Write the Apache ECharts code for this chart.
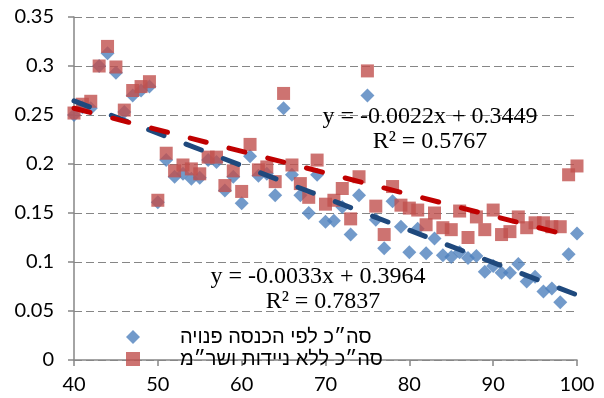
<!DOCTYPE html>
<html>
<head>
<meta charset="utf-8">
<script src="https://cdn.jsdelivr.net/npm/echarts@6/dist/echarts.min.js"></script>
<style>
  html, body { margin: 0; padding: 0; background: #fff; }
  #chart { width: 604px; height: 398px; }
</style>
</head>
<body>
<div id="chart"></div>
<script>
// Percentile of the income distribution (x axis)
const percentiles = [
  40, 41, 42, 43, 44, 45, 46, 47, 48, 49,
  50, 51, 52, 53, 54, 55, 56, 57, 58, 59,
  60, 61, 62, 63, 64, 65, 66, 67, 68, 69,
  70, 71, 72, 73, 74, 75, 76, 77, 78, 79,
  80, 81, 82, 83, 84, 85, 86, 87, 88, 89,
  90, 91, 92, 93, 94, 95, 96, 97, 98, 99, 100
];

// Total, by disposable income
const disposableIncome = [
  0.250, 0.258, 0.257, 0.300, 0.313, 0.293, 0.253, 0.270, 0.275, 0.279,
  0.161, 0.204, 0.187, 0.190, 0.185, 0.186, 0.204, 0.202, 0.173, 0.187,
  0.160, 0.208, 0.188, 0.190, 0.168, 0.257, 0.189, 0.168, 0.150, 0.189,
  0.141, 0.142, 0.156, 0.128, 0.168, 0.270, 0.143, 0.114, 0.162, 0.136,
  0.110, 0.134, 0.109, 0.124, 0.107, 0.105, 0.110, 0.104, 0.106, 0.090,
  0.096, 0.089, 0.089, 0.098, 0.080, 0.085, 0.070, 0.073, 0.059, 0.108, 0.129
];

// Total, without mobility and in-kind services
const withoutMobility = [
  0.252, 0.261, 0.264, 0.300, 0.320, 0.299, 0.255, 0.275, 0.279, 0.284,
  0.163, 0.211, 0.193, 0.199, 0.195, 0.190, 0.207, 0.207, 0.178, 0.193,
  0.172, 0.220, 0.194, 0.197, 0.182, 0.272, 0.199, 0.180, 0.166, 0.204,
  0.159, 0.163, 0.175, 0.144, 0.187, 0.295, 0.157, 0.128, 0.177, 0.158,
  0.155, 0.153, 0.138, 0.150, 0.135, 0.133, 0.152, 0.125, 0.146, 0.133,
  0.153, 0.128, 0.131, 0.146, 0.135, 0.140, 0.140, 0.136, 0.136, 0.189, 0.198
];

const seriesNames = ['סה״כ לפי הכנסה פנויה', 'סה״כ ללא ניידות ושר״מ'];

// Linear trend coefficients: y = slope * x + intercept
const trendDisposable = { slope: -0.0033, intercept: 0.3964, r2: '0.7837' };
const trendWithout = { slope: -0.0022, intercept: 0.3449, r2: '0.5767' };

const xTicks = { min: 40, max: 100, interval: 10 };
const yTicks = { min: 0, max: 0.35, interval: 0.05 };

function pairs(xs, ys) { return xs.map((x, i) => [x, ys[i]]); }
function trendLine(t) {
  return [xTicks.min, xTicks.max].map(x => [x, t.slope * x + t.intercept]);
}
function eqText(t) {
  const s = t.slope < 0 ? '-' + Math.abs(t.slope).toFixed(4) : t.slope.toFixed(4);
  return 'y = ' + s + 'x + ' + t.intercept.toFixed(4);
}

const chart = echarts.init(document.getElementById('chart'), null, { renderer: 'canvas' });

const axisGray = '#868686';
const labelFont = { fontFamily: 'Lato', fontSize: 20, color: '#000' };
const eqFont = { fontFamily: '"Liberation Serif", "DejaVu Serif", serif', fontSize: 24, fill: '#000' };

function eqLabel(text, x, y) {
  return {
    type: 'text', z: 10,
    style: Object.assign({ text: text, x: x, y: y, align: 'center', verticalAlign: 'middle' }, eqFont)
  };
}

chart.setOption({
  animation: false,
  backgroundColor: '#fff',
  grid: { left: 74, right: 27, top: 17, bottom: 38, containLabel: false },
  xAxis: {
    type: 'value',
    min: xTicks.min, max: xTicks.max, interval: xTicks.interval,
    axisLine: { lineStyle: { color: axisGray, width: 1.5 } },
    axisTick: { show: true, inside: false, length: 6, lineStyle: { color: axisGray, width: 1.5 } },
    axisLabel: Object.assign({ margin: 15 }, labelFont),
    splitLine: { show: false }
  },
  yAxis: {
    type: 'value',
    min: yTicks.min, max: yTicks.max, interval: yTicks.interval,
    axisLine: { show: true, lineStyle: { color: axisGray, width: 1.5 } },
    axisTick: { show: true, inside: false, length: 6, lineStyle: { color: axisGray, width: 1.5 } },
    axisLabel: Object.assign({ margin: 20 }, labelFont),
    splitLine: { show: true, lineStyle: { color: axisGray, width: 1, type: [8, 4] } }
  },
  legend: {
    orient: 'vertical',
    left: 121, top: 322, padding: 5,
    itemWidth: 14, itemHeight: 14, itemGap: 2,
    data: [
      { name: seriesNames[0], icon: 'diamond' },
      { name: seriesNames[1], icon: 'rect' }
    ],
    textStyle: { fontFamily: '"Liberation Sans", "DejaVu Sans", sans-serif', fontSize: 20, color: '#000', padding: [0, 0, 0, 35] }
  },
  series: [
    {
      name: seriesNames[0], type: 'scatter', symbol: 'diamond', symbolSize: 14,
      itemStyle: { color: '#4f81bd' },
      data: pairs(percentiles, disposableIncome), z: 2
    },
    {
      name: seriesNames[1], type: 'scatter', symbol: 'rect', symbolSize: 13,
      itemStyle: { color: '#c0504d' },
      data: pairs(percentiles, withoutMobility), z: 3
    },
    {
      name: 'trend-disposable', type: 'line', symbol: 'none', silent: true,
      lineStyle: { color: '#1f497d', width: 5, type: [16.5, 23.5], cap: 'round' },
      data: trendLine(trendDisposable), z: 4
    },
    {
      name: 'trend-without', type: 'line', symbol: 'none', silent: true,
      lineStyle: { color: '#c00000', width: 5, type: [16.5, 23.5], cap: 'round' },
      data: trendLine(trendWithout), z: 5
    }
  ],
  graphic: [
    eqLabel(eqText(trendWithout), 430, 117),
    eqLabel('R² = ' + trendWithout.r2, 430, 142),
    eqLabel(eqText(trendDisposable), 318, 277),
    eqLabel('R² = ' + trendDisposable.r2, 323, 302)
  ]
});
</script>
</body>
</html>
